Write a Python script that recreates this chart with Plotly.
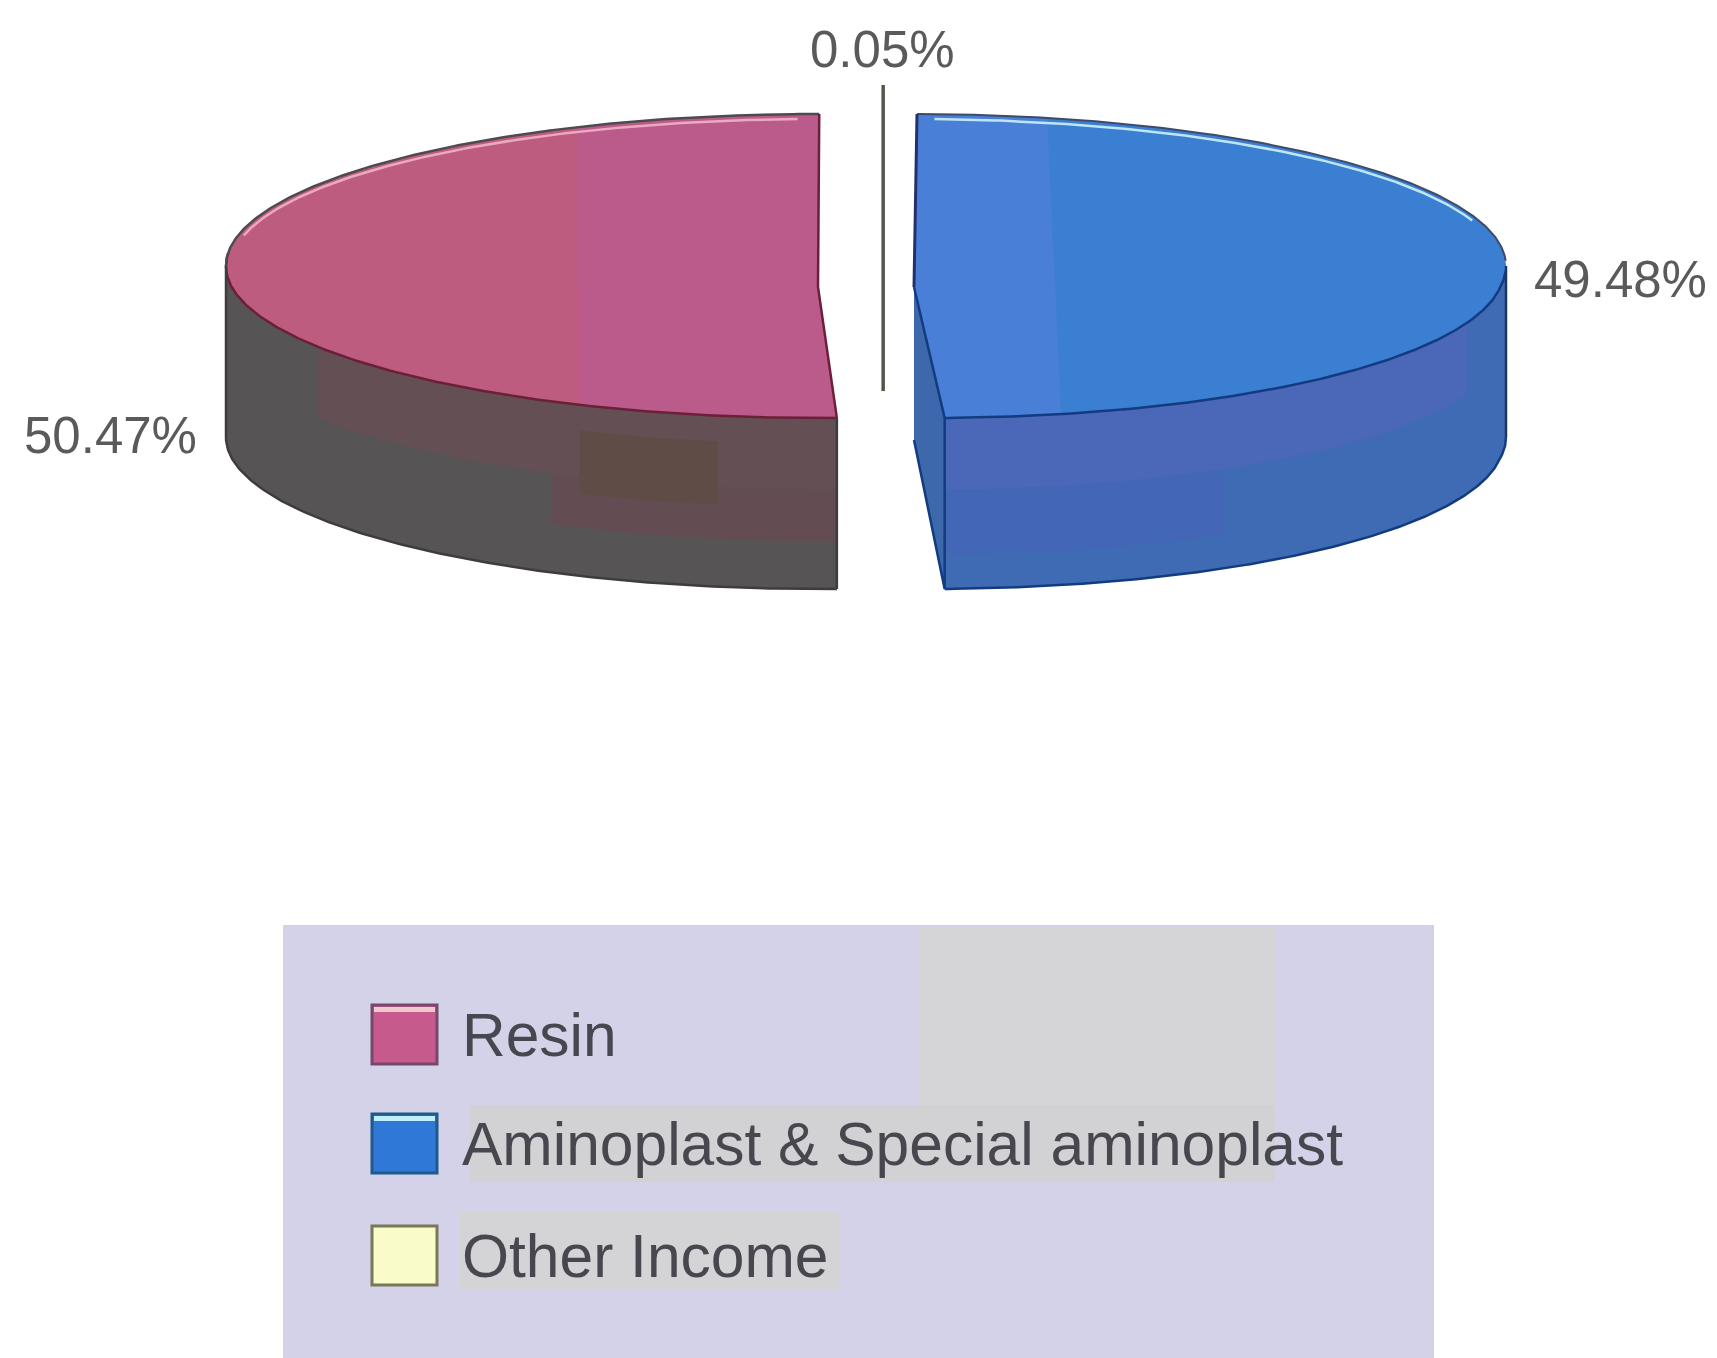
import numpy as np
import plotly.graph_objects as go

# Chart content
categories = ["Resin", "Aminoplast & Special aminoplast", "Other Income"]
shares = [50.47, 49.48, 0.05]

# Colours per category
top_colors = ["#BE5C80", "#3A7FD2", "#F8FBC8"]
wall_colors = ["#565454", "#3F6AB4", "#F8FBC8"]
edge_colors = ["#6B2038", "#123C7F", "#55554A"]
rim_colors = ["#EBA9C0", "#BFE6F5", "#F8FBC8"]
swatch_fills = ["#C65A8C", "#2F78D8", "#F9FCC8"]
swatch_edges = ["#76486C", "#1E5A8C", "#77775A"]
swatch_tops = ["#F2C8D0", "#BFEFFA", "#F9FCC8"]

# Pie projection, in page pixels
WIDTH, HEIGHT = 1717, 1358
RADIUS_X, RADIUS_Y = 592, 152
CENTER_Y, APEX_Y = 266, 287
DEPTH = 171
APEX_X = {"Resin": 818, "Aminoplast & Special aminoplast": 914, "Other Income": 881}
FRONT_SKEW = {"Resin": 0.02, "Aminoplast & Special aminoplast": 0.11, "Other Income": 0}
START_ANGLE = 0.3

# Sweep of each slice, clockwise from the back of the pie
order = [1, 0, 2]
sweeps = {}
angle = START_ANGLE
for i in order:
    sweep = shares[i] * 3.6
    sweeps[categories[i]] = (angle, angle + sweep)
    angle += sweep


def rim(name, t_deg, inset=0.0):
    t = np.radians(np.atleast_1d(t_deg))
    y = CENTER_Y - (RADIUS_Y - inset) * np.cos(t)
    x = APEX_X[name] + (RADIUS_X - inset) * np.sin(t)
    x = x + FRONT_SKEW[name] * np.clip(y - APEX_Y, 0, None)
    return x, y


def angles(a, b, step=0.5):
    n = max(2, int(abs(b - a) / step) + 1)
    return np.linspace(a, b, n)


fig = go.Figure()


def polygon(x, y, fill, line=None, width=0):
    fig.add_trace(go.Scatter(
        x=list(x), y=list(y), mode="lines", fill="toself", fillcolor=fill,
        line=dict(color=line or fill, width=width), hoverinfo="skip", showlegend=False,
    ))


def stroke(x, y, color, width):
    fig.add_trace(go.Scatter(
        x=list(x), y=list(y), mode="lines", line=dict(color=color, width=width),
        hoverinfo="skip", showlegend=False,
    ))


def wall_patch(name, a, b, d0, d1, color):
    t = angles(a, b)
    x, y = rim(name, t)
    polygon(np.r_[x, x[::-1]], np.r_[y + DEPTH * d0, y[::-1] + DEPTH * d1], color)


def top_strip(name, arc_in_a, arc_in_b, arc_out_a, arc_out_b, color):
    # Shade the part of a top face that runs along the cut, through the apex
    ix, iy = rim(name, angles(arc_in_a, arc_in_b))
    ox, oy = rim(name, angles(arc_out_a, arc_out_b))
    polygon(np.r_[ix, APEX_X[name], ox], np.r_[iy, APEX_Y, oy], color)


def draw_slice(i, wall_from, wall_to, patches, rim_range, shade):
    name = categories[i]
    a, b = sweeps[name]
    ax = APEX_X[name]
    # Outer wall
    wall_patch(name, wall_from, wall_to, 0, 1, wall_colors[i])
    for p in patches:
        wall_patch(name, *p)
    t = angles(wall_from, wall_to)
    x, y = rim(name, t)
    stroke(x, y + DEPTH, edge_colors[i] if i == 1 else "#3E3C40", 2.5)
    # Top face
    t = angles(a, b)
    x, y = rim(name, t)
    polygon(np.r_[ax, x, ax], np.r_[APEX_Y, y, APEX_Y], top_colors[i])
    top_strip(name, *shade)
    # Highlight just inside the back rim
    tt = angles(*rim_range)
    hx, hy = rim(name, tt, inset=5)
    stroke(hx, hy, rim_colors[i], 2.5)


# Resin, on the left
name = categories[0]
a, b = sweeps[name]
draw_slice(
    0, a, 270,
    patches=[
        (a, 238, 0.0, 0.42, "#644F55"),
        (a, 207, 0.42, 0.72, "#634D53"),
        (190, 204, 0.15, 0.52, "#604C46"),
    ],
    rim_range=(282, 358),
    shade=(336, b, a, 204, "#BB5B8B"),
)
x, y = rim(name, angles(a, 275))
stroke(x, y, edge_colors[0], 2.5)
x, y = rim(name, angles(270, b))
stroke(x, y, "#4E4A50", 2.5)
fx, fy = rim(name, a)
bx, by = rim(name, b)
stroke([bx[0], APEX_X[name], fx[0]], [by[0], APEX_Y, fy[0]], edge_colors[0], 2.5)
stroke([fx[0], fx[0]], [fy[0], fy[0] + DEPTH], "#3E3C40", 2.5)
lx, ly = rim(name, 270)
stroke([lx[0], lx[0]], [ly[0], ly[0] + DEPTH], "#3E3C40", 2.5)

# Aminoplast, on the right: the cut face sits behind the top and wall
name = categories[1]
a, b = sweeps[name]
ax = APEX_X[name]
fx, fy = rim(name, b)
draw_slice(
    1, 90, b,
    patches=[
        (112, b, 0.0, 0.42, "#4B68B8"),
        (150, b, 0.42, 0.8, "#4466B6"),
    ],
    rim_range=(2, 72),
    shade=(167, b, a, 13, "#4A7FD8"),
)
polygon([ax, fx[0], fx[0], ax], [APEX_Y, fy[0], fy[0] + DEPTH, APEX_Y + 153],
        "#3D68AC", edge_colors[1], 2.5)
x, y = rim(name, angles(a, 88))
stroke(x, y, "#3E4A6A", 2)
x, y = rim(name, angles(92, b))
stroke(x, y, edge_colors[1], 2.5)
rx, ry = rim(name, 90)
stroke([rx[0], rx[0]], [ry[0], ry[0] + DEPTH], "#1E3560", 2.5)
stroke([ax, ax + 3], [APEX_Y, 114], "#23306E", 3)

# Other Income: a sliver so thin that it reads as a line, continuing as its leader
name = categories[2]
a, b = sweeps[name]
sx, sy = rim(name, (a + b) / 2)
stroke([sx[0], sx[0]], [85, 391], edge_colors[2], 3.5)

# Legend panel
shapes = [
    dict(type="rect", x0=283, x1=1434, y0=925, y1=1358, fillcolor="#D4D2E8", line_width=0, layer="below"),
    dict(type="rect", x0=920, x1=1275, y0=928, y1=1130, fillcolor="#D5D5D8", line_width=0, layer="below"),
    dict(type="rect", x0=470, x1=1275, y0=1105, y1=1182, fillcolor="#D2D2D4", line_width=0, layer="below"),
    dict(type="rect", x0=460, x1=840, y0=1212, y1=1290, fillcolor="#D4D4D6", line_width=0, layer="below"),
]
legend_rows = [1035, 1144, 1256]
annotations = []
for i, row in zip(range(3), legend_rows):
    shapes.append(dict(type="rect", x0=372, x1=437, y0=row - 30, y1=row + 29,
                       fillcolor=swatch_fills[i], line=dict(color=swatch_edges[i], width=3)))
    shapes.append(dict(type="rect", x0=374, x1=435, y0=row - 28, y1=row - 23,
                       fillcolor=swatch_tops[i], line_width=0))
    annotations.append(dict(x=460, y=row, text=categories[i], xanchor="left", yanchor="middle",
                            showarrow=False, font=dict(family="Liberation Sans", size=60.5, color="#47474F")))

# Percentage labels
label_spots = [(110, 435), (1620, 279), (882, 49)]
for value, (lx, ly) in zip(shares, label_spots):
    annotations.append(dict(x=lx, y=ly, text=f"{value:.2f}%", xanchor="center", yanchor="middle",
                            showarrow=False, font=dict(family="Liberation Sans", size=51, color="#5A5A5A")))

fig.update_layout(
    width=WIDTH, height=HEIGHT, autosize=False,
    margin=dict(l=0, r=0, t=0, b=0, pad=0),
    paper_bgcolor="white", plot_bgcolor="white",
    xaxis=dict(range=[0, WIDTH], visible=False, fixedrange=True),
    yaxis=dict(range=[HEIGHT, 0], visible=False, fixedrange=True),
    shapes=shapes, annotations=annotations, showlegend=False,
)
fig.write_html("out.html", config=dict(displayModeBar=False))
